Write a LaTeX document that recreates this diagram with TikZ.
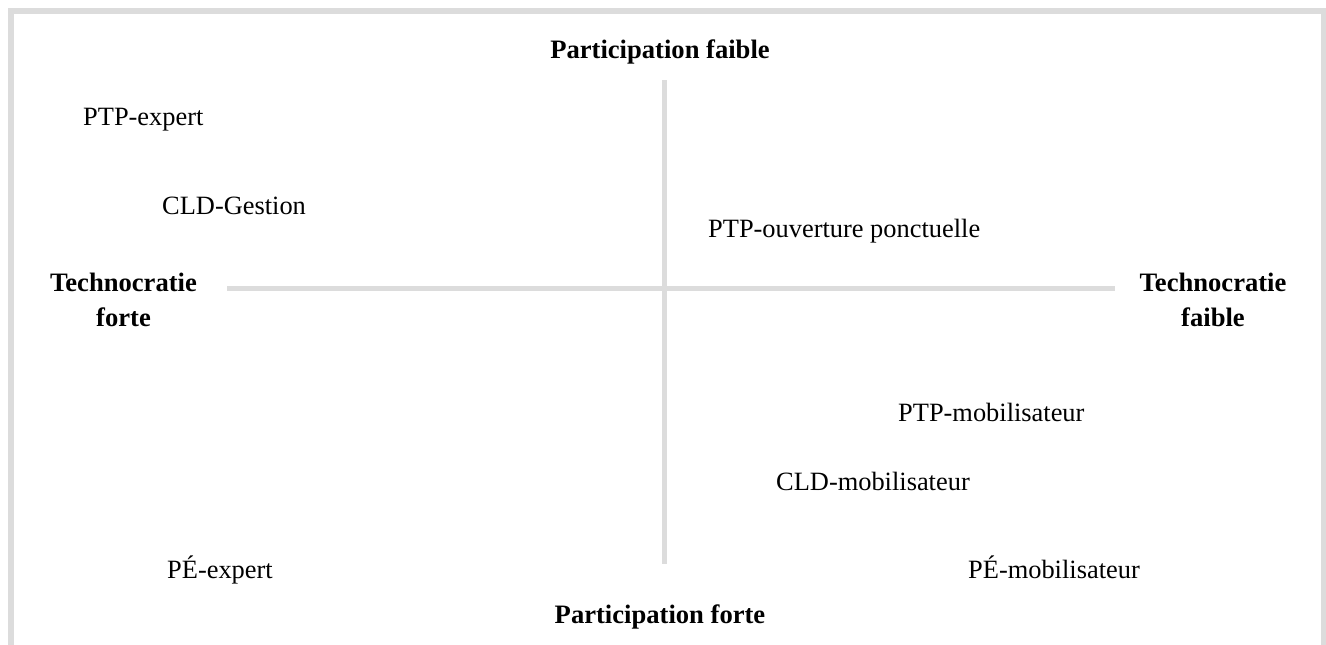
\documentclass[tikz,border=0pt]{standalone}
\usepackage{fontspec}
\setmainfont{Liberation Serif}
\definecolor{axisgray}{HTML}{DCDCDC}
\begin{document}
\begin{tikzpicture}[x=1pt,y=-1pt,
  lbl/.style={inner sep=0pt,font=\fontsize{26.4}{30}\selectfont,anchor=base west},
  ttl/.style={inner sep=0pt,font=\fontsize{26.6}{35}\selectfont\bfseries,anchor=base,align=center},
  axis/.style={draw=axisgray,line width=5pt},
  frame/.style={draw=axisgray,line width=6pt}]
\useasboundingbox (0,0) rectangle (1326,645);
\draw[frame] (11,648) -- (11,11) -- (1324,11) -- (1324,648);
% axes
\coordinate (vt) at (664.5,80);
\coordinate (vb) at (664.5,564);
\coordinate (hl) at (227,288.5);
\coordinate (hr) at (1115,288.5);
\draw[axis] (vt) -- (vb);
\draw[axis] (hl) -- (hr);
% titles
\node[ttl] (pf) at (660,58) {Participation faible};
\node[ttl] (pfo) at (660,623) {Participation forte};
\node[ttl,anchor=north] (tfo) at (123.5,273) {Technocratie\\forte};
\node[ttl,anchor=north] (tfa) at (1213,273) {Technocratie\\faible};
% labels
\node[lbl] (a) at (83,125) {PTP-expert};
\node[lbl] (b) at (162,214) {CLD-Gestion};
\node[lbl] (c) at (708,237) {PTP-ouverture ponctuelle};
\node[lbl] (d) at (898,421) {PTP-mobilisateur};
\node[lbl] (e) at (776,490) {CLD-mobilisateur};
\node[lbl] (f) at (167,578) {PÉ-expert};
\node[lbl] (g) at (968,578) {PÉ-mobilisateur};
\end{tikzpicture}
\end{document}
